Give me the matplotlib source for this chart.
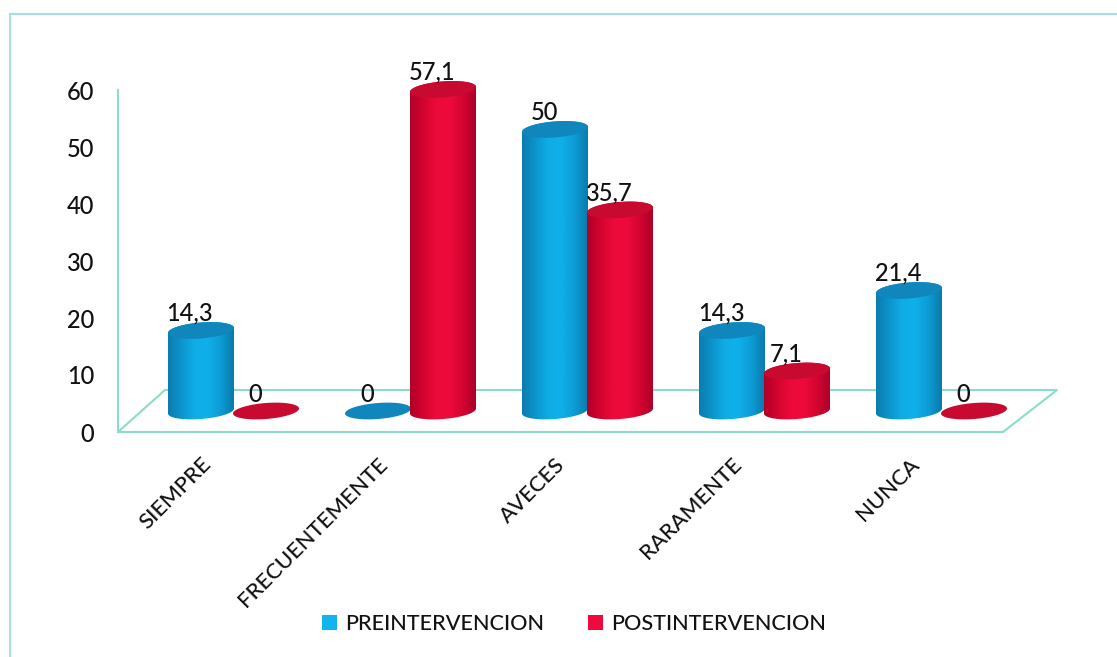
import numpy as np
import matplotlib
matplotlib.use("Agg")
import matplotlib.pyplot as plt
from matplotlib.colors import LinearSegmentedColormap
from matplotlib.lines import Line2D
from matplotlib.patches import Patch, Polygon
from matplotlib.transforms import ScaledTranslation

categorias = ["SIEMPRE", "FRECUENTEMENTE", "AVECES", "RARAMENTE", "NUNCA"]
pre = [14.3, 0, 50, 14.3, 21.4]
post = [0, 57.1, 35.7, 7.1, 0]
y_ticks = [0, 10, 20, 30, 40, 50, 60]

plt.rcParams["font.family"] = ["Lato", "DejaVu Sans"]
plt.rcParams["font.weight"] = "medium"

W, H = 1117, 657
fig = plt.figure(figsize=(W / 100, H / 100), dpi=100, facecolor="white")
ax = fig.add_axes([118 / W, (H - 432) / H, 885 / W, 342 / H])
ax.set_xlim(-0.5, 4.5)
ax.set_ylim(0, 60)

verde = "#8adccb"
PX = 5 / 885      # unidades x por pixel
PY = 60 / 342     # unidades y por pixel

# marco de la hoja (solo arriba e izquierda)
fig.add_artist(Line2D([10 / W, 1], [1 - 14 / H] * 2, color="#a6dfe2", lw=1.5))
fig.add_artist(Line2D([10 / W] * 2, [1 - 14 / H, 0], color="#a2e4d8", lw=1.5))

# ejes
for lado in ["top", "right"]:
    ax.spines[lado].set_visible(False)
for lado in ["left", "bottom"]:
    ax.spines[lado].set_color(verde)
    ax.spines[lado].set_linewidth(1.5)
ax.set_yticks(y_ticks)
ax.set_xticks(range(len(categorias)))
ax.set_xticklabels(categorias, rotation=45, ha="right", rotation_mode="anchor")
ax.tick_params(axis="y", length=0, pad=17, labelsize=17, colors="#111111")
ax.tick_params(axis="x", length=0, pad=16, labelsize=15.8, colors="#111111")
for etiqueta in ax.get_xticklabels():
    etiqueta.set_transform(etiqueta.get_transform() + ScaledTranslation(-0.06, 0, fig.dpi_scale_trans))

# piso 3D
fondo = 42 * PY
ax.add_patch(Polygon([(-0.5, 0), (4.5, 0), (4.5 + 54 * PX, fondo), (-0.5 + 47 * PX, fondo)],
                     closed=True, fill=False, ec=verde, lw=1.5, clip_on=False, zorder=1))

grad_azul = LinearSegmentedColormap.from_list("a", ["#0b7cae", "#0c94cc", "#0fade6", "#0fb0ea", "#0d9bd4", "#0a7aab"])
grad_rojo = LinearSegmentedColormap.from_list("r", ["#b00029", "#d2042f", "#ec0a3a", "#ee0a3c", "#d40530", "#ab0028"])
t = np.linspace(0, 2 * np.pi, 121)


def elipse(cx, cy):
    # elipse un poco inclinada, como la tapa del cilindro
    x = cx + 33 * PX * np.cos(t)
    y = cy + (8 * np.sin(t) + 2.5 * np.cos(t)) * PY
    return np.column_stack([x, y])


def cilindro(cx, valor, cmap, tapa, z):
    base = 21 * PY
    arriba = base + valor * 0.988
    if valor > 0:
        inf = elipse(cx, base)
        sup = elipse(cx, arriba)
        mitad_inf = inf[60:121]
        mitad_sup = sup[0:61]
        cuerpo = Polygon(np.vstack([mitad_inf, mitad_sup]), closed=True, fc="none", ec="none",
                         clip_on=False, zorder=z)
        ax.add_patch(cuerpo)
        im = ax.imshow(np.linspace(0, 1, 256).reshape(1, -1), cmap=cmap, aspect="auto",
                       extent=[cx - 33 * PX, cx + 33 * PX, base - 12 * PY, arriba + 12 * PY],
                       zorder=z, interpolation="bilinear")
        im.set_clip_box(fig.bbox)
        im.set_clip_path(cuerpo)
    ax.add_patch(Polygon(elipse(cx, arriba), closed=True, fc=tapa, ec="none", clip_on=False, zorder=z + 0.1))
    return arriba


prof = 27 * PX
sep = 32.5 * PX

for i in range(len(categorias)):
    z = 3 + i
    a1 = cilindro(i + prof - sep, pre[i], grad_azul, "#0f86bc", z)
    a2 = cilindro(i + prof + sep, post[i], grad_rojo, "#c80a30", z + 0.3)
    for xc, v, top in [(i + prof - sep, pre[i], a1), (i + prof + sep, post[i], a2)]:
        ax.annotate(f"{v:g}".replace(".", ","), xy=(xc, top), xytext=(-11, 17), textcoords="offset pixels",
                    ha="center", va="center", fontsize=17, color="#111111", zorder=20, annotation_clip=False)

ax.set_xlim(-0.5, 4.5)
ax.set_ylim(0, 60)

handles = [Patch(fc="#12b4ee", ec="none", label="PREINTERVENCION"),
           Patch(fc="#ee0a3c", ec="none", label="POSTINTERVENCION")]
fig.legend(handles=handles, loc="center", bbox_to_anchor=(574 / W, 1 - 624 / H), ncol=2, frameon=False,
           fontsize=15.6, handlelength=0.69, handleheight=0.69, handletextpad=0.37, columnspacing=2.07,
           labelcolor="#111111")

fig.savefig("out.png", dpi=100)
